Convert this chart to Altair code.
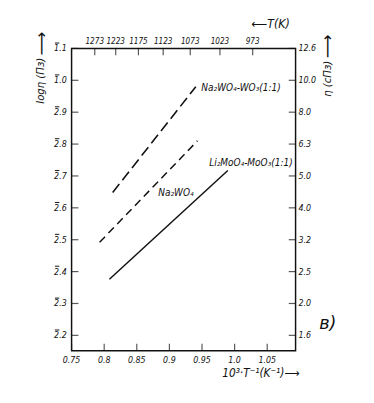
import altair as alt
import pandas as pd

# ---- data ----
x_ticks = [0.75, 0.8, 0.85, 0.9, 0.95, 1.0, 1.05]
x_tick_labels = ["0.75", "0.8", "0.85", "0.9", "0.95", "1.0", "1.05"]
top_T = [1273, 1223, 1173, 1123, 1073, 1023, 973]
top_T_labels = ["1273", "1223", "1175", "1123", "1073", "1023", "973"]
y_ticks = [-1.8, -1.7, -1.6, -1.5, -1.4, -1.3, -1.2, -1.1, -1.0, -0.9]
# characteristic digits are printed with a bar over them (2̄.2 ... 1̄.1)
y_left_labels = ["2.2", "2.3", "2.4", "2.5", "2.6", "2.7", "2.8", "2.9", "1.0", "1.1"]
y_right_labels = ["1.6", "2.0", "2.5", "3.2", "4.0", "5.0", "6.3", "8.0", "10.0", "12.6"]

series_names = ["Na₂WO₄-WO₃(1:1)", "Na₂WO₄", "Li₂MoO₄-MoO₃(1:1)"]
s1_x = [0.813, 0.9405]
s1_y = [-1.352, -1.020]
s2_x = [0.793, 0.943]
s2_y = [-1.508, -1.190]
s3_x = [0.808, 0.9896]
s3_y = [-1.624, -1.283]
label_x = [0.949, 0.883, 0.961]
label_y = [-1.025, -1.353, -1.261]

W, H = 229, 309
FONT = "DejaVu Sans Condensed"
xs = alt.Scale(domain=[0.75, 1.0935], nice=False, zero=False)
ys = alt.Scale(domain=[-1.848, -0.9], nice=False, zero=False)

def X(f="x"):
    return alt.X(f"{f}:Q", scale=xs, axis=None)

def Y(f="y"):
    return alt.Y(f"{f}:Q", scale=ys, axis=None)

lines_df = pd.concat([
    pd.DataFrame({"x": s1_x, "y": s1_y, "s": series_names[0]}),
    pd.DataFrame({"x": s2_x, "y": s2_y, "s": series_names[1]}),
    pd.DataFrame({"x": s3_x, "y": s3_y, "s": series_names[2]}),
])

l1 = alt.Chart(lines_df[lines_df.s == series_names[0]]).mark_line(
    color="#111", strokeWidth=1.6, strokeDash=[11, 5]).encode(x=X(), y=Y())
l2 = alt.Chart(lines_df[lines_df.s == series_names[1]]).mark_line(
    color="#111", strokeWidth=1.5, strokeDash=[8, 5]).encode(x=X(), y=Y())
l3 = alt.Chart(lines_df[lines_df.s == series_names[2]]).mark_line(
    color="#111", strokeWidth=1.5).encode(x=X(), y=Y())

lab_df = pd.DataFrame({"x": label_x, "y": label_y, "t": series_names})
labels = alt.Chart(lab_df).mark_text(
    align="left", baseline="middle", font=FONT, fontStyle="italic",
    fontSize=10.2, color="#111").encode(x=X(), y=Y(), text="t:N")

ydf = pd.DataFrame({"y": y_ticks, "l": y_left_labels, "r": y_right_labels})
xdf = pd.DataFrame({"x": x_ticks, "l": x_tick_labels})
tdf = pd.DataFrame({"T": top_T, "l": top_T_labels})

tick_l = alt.Chart(ydf).mark_tick(orient="horizontal", size=7, thickness=1.2, color="#111").encode(
    y=Y(), x=alt.value(3.5))
tick_r = alt.Chart(ydf).mark_tick(orient="horizontal", size=7, thickness=1.2, color="#111").encode(
    y=Y(), x=alt.value(W - 3.5))
tick_b = alt.Chart(xdf).mark_tick(orient="vertical", size=7, thickness=1.2, color="#111").encode(
    x=X(), y=alt.value(H - 3.5))
tick_t = alt.Chart(tdf).transform_calculate(x="1000 / datum.T").mark_tick(
    orient="vertical", size=7, thickness=1.2, color="#111").encode(x=X(), y=alt.value(3.5))

txt = dict(font=FONT, fontStyle="italic", fontSize=9, color="#111")
lab_l = alt.Chart(ydf).mark_text(align="right", baseline="middle", **txt).encode(
    y=Y(), x=alt.value(-5), text="l:N")
bar_l = alt.Chart(ydf).mark_rule(color="#111", strokeWidth=1, yOffset=-5.5).encode(
    y=Y(), x=alt.value(-17), x2=alt.value(-12.5))
lab_r = alt.Chart(ydf).mark_text(align="left", baseline="middle", **txt).encode(
    y=Y(), x=alt.value(W + 3), text="r:N")
lab_b = alt.Chart(xdf).mark_text(align="center", baseline="middle", **txt).encode(
    x=X(), y=alt.value(H + 10), text="l:N")
lab_t = alt.Chart(tdf).transform_calculate(x="1000 / datum.T").mark_text(
    align="center", baseline="middle", font=FONT, fontStyle="italic", fontSize=8.3,
    color="#111").encode(x=X(), y=alt.value(-7), text="l:N")

ttl = dict(font=FONT, fontStyle="italic", fontSize=11.5, color="#111")
arr = dict(font="DejaVu Sans", fontSize=17, color="#111")
title_l = alt.Chart(pd.DataFrame({"t": ["logη (Пз)"]})).mark_text(
    angle=270, align="center", baseline="middle", **ttl).encode(
    x=alt.value(-31), y=alt.value(33), text="t:N")
arrow_l = alt.Chart(pd.DataFrame({"t": ["⟶"]})).mark_text(
    angle=270, align="center", baseline="middle", **arr).encode(
    x=alt.value(-30), y=alt.value(-5), text="t:N")
title_r = alt.Chart(pd.DataFrame({"t": ["η (сПз)"]})).mark_text(
    angle=270, align="center", baseline="middle", **ttl).encode(
    x=alt.value(262), y=alt.value(31), text="t:N")
arrow_r = alt.Chart(pd.DataFrame({"t": ["⟶"]})).mark_text(
    angle=270, align="center", baseline="middle", **arr).encode(
    x=alt.value(262), y=alt.value(-2), text="t:N")
title_t = alt.Chart(pd.DataFrame({"t": ["⟵T(K)"]})).mark_text(
    align="left", baseline="middle", font=FONT, fontStyle="italic", fontSize=12.5,
    color="#111").encode(x=alt.value(184), y=alt.value(-25), text="t:N")
title_b = alt.Chart(pd.DataFrame({"t": ["10³·T⁻¹(K⁻¹)⟶"]})).mark_text(
    align="left", baseline="middle", font=FONT, fontStyle="italic", fontSize=12,
    color="#111").encode(x=alt.value(154), y=alt.value(332), text="t:N")
panel = alt.Chart(pd.DataFrame({"t": ["в)"]})).mark_text(
    align="center", baseline="middle", font="DejaVu Sans", fontStyle="italic", fontSize=18, color="#111").encode(
    x=alt.value(262), y=alt.value(282), text="t:N")

chart = alt.layer(
    l1, l2, l3, labels, tick_l, tick_r, tick_b, tick_t,
    lab_l, bar_l, lab_r, lab_b, lab_t, title_l, arrow_l, title_r, arrow_r, title_t, title_b, panel
).properties(
    width=W, height=H,
    autosize=alt.AutoSizeParams(type="none"),
    padding={"left": 65, "top": 37, "right": 72, "bottom": 41},
).configure(
    background="white",
    view=alt.ViewConfig(stroke="#111", strokeWidth=1.5),
)

chart.save("out.html", embed_options={"renderer": "svg", "actions": False})
